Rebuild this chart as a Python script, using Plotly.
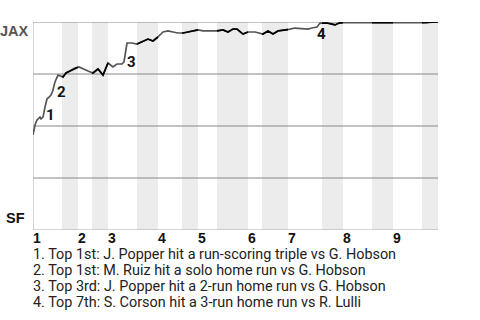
import numpy as np
import plotly.graph_objects as go

# ---- data ----
# play index (x) and JAX win probability (y)
plays = [0, 0.4, 0.8, 1.4, 1.6, 2.0, 2.4, 2.8, 3.2, 3.6, 4.0, 4.4, 5.0, 5.6, 6.0, 6.6, 7.4, 8.4,
         9.2, 10, 11, 12, 13, 14, 15, 16, 16.8, 17.8, 18.2, 18.8, 19.8, 20.8, 21.8, 23, 24, 25,
         26, 27, 28, 29, 30, 31, 32, 33, 34, 36.8, 38, 39, 40, 40.8, 42, 43, 44.4, 45.4, 46,
         47, 48, 49, 50.8, 51.4, 52.4, 54, 55, 55.8, 56.8, 57.4, 58.8, 59.8, 60.4, 61.2, 62,
         78.8, 79.4, 81]
win_prob = [0.457, 0.505, 0.529, 0.543, 0.534, 0.543, 0.591, 0.630, 0.639, 0.649, 0.673, 0.712,
            0.745, 0.740, 0.736, 0.755, 0.764, 0.779, 0.784, 0.774, 0.764, 0.755, 0.774, 0.745,
            0.803, 0.784, 0.798, 0.798, 0.808, 0.899, 0.899, 0.894, 0.904, 0.918, 0.909, 0.928,
            0.952, 0.957, 0.952, 0.947, 0.947, 0.952, 0.957, 0.962, 0.957, 0.957, 0.962, 0.952,
            0.966, 0.966, 0.942, 0.952, 0.952, 0.947, 0.942, 0.957, 0.942, 0.957, 0.962, 0.966,
            0.971, 0.966, 0.966, 0.971, 0.976, 0.995, 0.995, 0.990, 0.986, 0.995, 0.997,
            0.997, 1.0, 1.0]

# half-inning start plays (top1, bot1, top2, bot2, ...), plus end of game
half_starts = [0, 5.8, 9, 11.8, 15, 20.8, 25, 29.8, 33, 36.8, 43, 45.8, 51, 57.8, 62, 67.8, 72, 77.8]
game_end = 81
innings = ["1", "2", "3", "4", "5", "6", "7", "8", "9"]

event_labels = ["1", "2", "3", "4"]
event_x = [3.4, 5.6, 19.6, 57.6]
event_y = [0.553, 0.663, 0.808, 0.942]
event_text = [
    "1. Top 1st: J. Popper hit a run-scoring triple vs G. Hobson",
    "2. Top 1st: M. Ruiz hit a solo home run vs G. Hobson",
    "3. Top 3rd: J. Popper hit a 2-run home run vs G. Hobson",
    "4. Top 7th: S. Corson hit a 3-run home run vs R. Lulli",
]
team_top = "JAX"
team_bottom = "SF"

# ---- figure ----
fig = go.Figure()
shapes = []
bounds = half_starts + [game_end]
bottom_halves = [(bounds[i], bounds[i + 1]) for i in range(1, len(bounds) - 1, 2)]
for a, b in bottom_halves:
    shapes.append(dict(type="rect", xref="x", yref="y", x0=a, x1=b, y0=0, y1=1,
                       fillcolor="#ececec", line_width=0, layer="below"))

# gridlines
for g in [0.25, 0.5, 0.75, 1.0]:
    shapes.append(dict(type="line", xref="x", yref="y", x0=0, x1=game_end, y0=g, y1=g,
                       line=dict(color="#888888", width=1), layer="below"))
shapes.append(dict(type="line", xref="x", yref="y", x0=0, x1=game_end, y0=0, y1=0,
                   line=dict(color="#aaaaaa", width=1), layer="below"))
shapes.append(dict(type="line", xref="x", yref="y", x0=0, x1=0, y0=0, y1=1,
                   line=dict(color="#aaaaaa", width=1), layer="below"))

px = np.array(plays, dtype=float)
py = np.array(win_prob, dtype=float)

fig.add_trace(go.Scatter(x=px, y=py, mode="lines", line=dict(color="#555555", width=1.7),
                         hoverinfo="skip", showlegend=False))
bx, by = [], []
for a, b in bottom_halves:
    inner = (px > a) & (px < b)
    xs = np.concatenate([[a], px[inner], [b]])
    ys = np.concatenate([[np.interp(a, px, py)], py[inner], [np.interp(b, px, py)]])
    bx += list(xs) + [None]
    by += list(ys) + [None]
fig.add_trace(go.Scatter(x=bx, y=by, mode="lines", line=dict(color="#000000", width=1.7),
                         hoverinfo="skip", showlegend=False))

annotations = []
bold = dict(family="Liberation Sans, Arial", size=14, color="#111111")
for lab, ex, ey in zip(event_labels, event_x, event_y):
    annotations.append(dict(x=ex, y=ey, xref="x", yref="y", text=f"<b>{lab}</b>",
                            showarrow=False, font=dict(family="Roboto", size=15, color="#111111"),
                            xanchor="center", yanchor="middle"))
for i, lab in enumerate(innings):
    annotations.append(dict(x=half_starts[2 * i], y=0, xref="x", yref="paper",
                            text=f"<b>{lab}</b>", showarrow=False, font=bold,
                            xanchor="left", yanchor="middle", xshift=-2, yshift=-8))
annotations.append(dict(x=0, y=1, xref="paper", yref="paper", text=f"<b>{team_top}</b>",
                        showarrow=False, font=dict(family="Liberation Sans, Arial", size=14.5, color="#555555"),
                        xanchor="right", yanchor="top", xshift=-2, yshift=1))
annotations.append(dict(x=0, y=0, xref="paper", yref="paper", text=f"<b>{team_bottom}</b>",
                        showarrow=False, font=dict(family="Liberation Sans, Arial", size=14.5, color="#111111"),
                        xanchor="right", yanchor="bottom", xshift=-6, yshift=2))
for i, t in enumerate(event_text):
    annotations.append(dict(x=0, y=0, xref="paper", yref="paper", text=t, showarrow=False,
                            font=dict(family="Roboto", size=14.4, color="#222222"), borderpad=0,
                            xanchor="left", yanchor="middle", xshift=-1,
                            yshift=-(24 + 16 * i)))

fig.update_layout(
    width=480, height=320,
    margin=dict(l=33, r=42, t=22, b=90),
    paper_bgcolor="white", plot_bgcolor="white",
    xaxis=dict(range=[0, game_end], showgrid=False, zeroline=False, showticklabels=False,
               showline=False, fixedrange=True),
    yaxis=dict(range=[0, 1], showgrid=False, zeroline=False, showticklabels=False,
               showline=False, fixedrange=True),
    shapes=shapes, annotations=annotations, showlegend=False,
)
fig.write_html("out.html", config={"displayModeBar": False})
